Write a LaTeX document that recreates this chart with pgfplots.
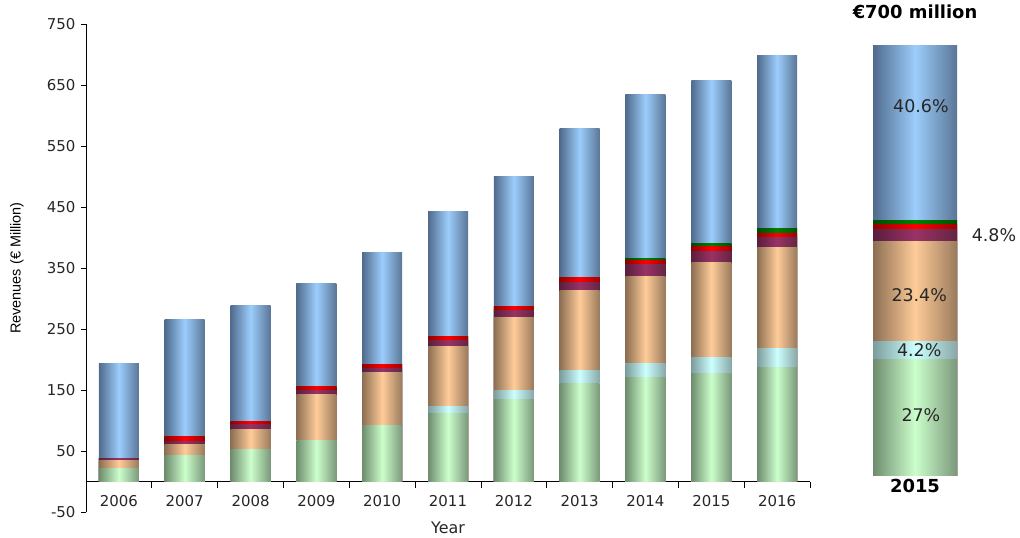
\documentclass[border=0pt]{standalone}
\usepackage{pgfplots}
\usepackage{pgfplotstable}
\pgfplotsset{compat=1.18}
\usepackage{fontspec}
\setmainfont{DejaVu Sans}
\newfontfamily\arialfont{Liberation Sans}
\definecolor{bluM}{HTML}{9CCDFC}\definecolor{bluL}{HTML}{506B8C}\definecolor{bluR}{HTML}{5A7696}
\definecolor{grnM}{HTML}{CCFFCC}\definecolor{grnL}{HTML}{6E8C6E}\definecolor{grnR}{HTML}{7A987A}
\definecolor{cyaM}{HTML}{CCFFFF}\definecolor{cyaL}{HTML}{7C9C9C}\definecolor{cyaR}{HTML}{88A8A8}
\definecolor{orgM}{HTML}{FFCC99}\definecolor{orgL}{HTML}{8C6E52}\definecolor{orgR}{HTML}{9A7A5C}
\definecolor{purM}{HTML}{993366}\definecolor{purL}{HTML}{5A1E3C}\definecolor{purR}{HTML}{642442}
\definecolor{redM}{HTML}{FF0000}\definecolor{redL}{HTML}{900000}\definecolor{redR}{HTML}{A00000}
\definecolor{dgrM}{HTML}{008000}\definecolor{dgrL}{HTML}{004A00}\definecolor{dgrR}{HTML}{005200}
\pgfplotsset{cyl/.style={draw=none, bar shift=0pt, fill=#1M, left color=#1L, right color=#1R, middle color=#1M}}
% segment values (EUR million): green, light cyan, orange, purple, red, dark green, blue
\pgfplotstableread{
x g    c    o     p    r   d   b
0 22   0    13    3    0.5 0   155.5
1 42   0    19    5    7   0   192
2 52   0    34    7    5   0   190
3 68   0    74    8    6.5 0   168.5
4 91   0    87    8    6.6 0   183.4
5 112  10.6 98.4  10   7.5 0   203.5
6 134.7 14.2 119.6 11.5 6.6 0  213.4
7 161  20.6 131.4 13   8   0   244
8 170  24   142   19   7   4   269
9 177  26   155.7 18   8.3 5.5 266.5
10 187 31   165   17   7   8   284
}\segs
% 2015 share (%)
\pgfplotstableread{
x g  c   o    p   r   d   b
0 27 4.2 23.4 2.8 1.2 0.8 40.6
}\share
\begin{document}
\begin{tikzpicture}
\useasboundingbox (0,0) rectangle (1020bp,538bp);
\begin{axis}[
  at={(86bp,26bp)}, anchor=south west, scale only axis,
  width=724bp, height=488bp,
  xmin=-0.5, xmax=10.5, ymin=-50, ymax=750,
  ybar, bar width=40bp,
  axis x line*=middle, axis y line*=left,
  hide obscured x ticks=false,
  xtick={0,1,2,3,4,5,6,7,8,9,10},
  xticklabels={2006,2007,2008,2009,2010,2011,2012,2013,2014,2015,2016},
  minor xtick={-0.5,0.5,1.5,2.5,3.5,4.5,5.5,6.5,7.5,8.5,9.5,10.5},
  ytick={-50,50,150,250,350,450,550,650,750},
  tick align=outside,
  major tick length=5bp, minor tick length=6bp,
  major x tick style={draw=none},
  tick style={black, line width=0.8pt},
  axis line style={black, line width=0.8pt},
  /pgf/number format/assume math mode=true,
  ticklabel style={font=\fontsize{15}{17}\selectfont, text=black!85},
  yticklabel style={xshift=-2bp},
  xticklabel style={yshift=-5bp},
  xlabel={Year},
  xlabel style={at={(axis description cs:0.5,0)}, anchor=center, yshift=-16bp, font=\fontsize{16}{18}\selectfont, text=black!85},
  ylabel={Revenues (€ Million)},
  ylabel style={at={(axis description cs:-0.0953,0.5)}, anchor=center, font=\arialfont\fontsize{14.5}{16}\selectfont},
  clip=false,
]
\pgfplotsinvokeforeach{0,1,2,3,4,5,6,7,8,9,10}{
\addplot[cyl=blu, restrict x to domain=#1:#1] table[x=x, y expr=\thisrow{g}+\thisrow{c}+\thisrow{o}+\thisrow{p}+\thisrow{r}+\thisrow{d}+\thisrow{b}] {\segs};
\addplot[cyl=dgr, restrict x to domain=#1:#1] table[x=x, y expr=\thisrow{g}+\thisrow{c}+\thisrow{o}+\thisrow{p}+\thisrow{r}+\thisrow{d}] {\segs};
\addplot[cyl=red, restrict x to domain=#1:#1] table[x=x, y expr=\thisrow{g}+\thisrow{c}+\thisrow{o}+\thisrow{p}+\thisrow{r}] {\segs};
\addplot[cyl=pur, restrict x to domain=#1:#1] table[x=x, y expr=\thisrow{g}+\thisrow{c}+\thisrow{o}+\thisrow{p}] {\segs};
\addplot[cyl=org, restrict x to domain=#1:#1] table[x=x, y expr=\thisrow{g}+\thisrow{c}+\thisrow{o}] {\segs};
\addplot[cyl=cya, restrict x to domain=#1:#1] table[x=x, y expr=\thisrow{g}+\thisrow{c}] {\segs};
\addplot[cyl=grn, restrict x to domain=#1:#1] table[x=x, y=g] {\segs};
}
\end{axis}
\begin{axis}[
  at={(873bp,62bp)}, anchor=south west, scale only axis,
  width=84bp, height=430bp,
  xmin=-0.5, xmax=0.5, ymin=0, ymax=100,
  ybar, bar width=84bp,
  axis line style={draw=none},
  ytick=\empty, xtick={0}, xticklabels={2015},
  major tick length=0pt, tick style={draw=none},
  xticklabel style={font=\bfseries\fontsize{18}{20}\selectfont},
  title={€700 million},
  title style={at={(0.5,1)}, anchor=center, yshift=28bp, font=\bfseries\fontsize{18}{20}\selectfont},
  clip=false,
]
\addplot[cyl=blu] table[x=x, y expr=\thisrow{g}+\thisrow{c}+\thisrow{o}+\thisrow{p}+\thisrow{r}+\thisrow{d}+\thisrow{b}] {\share};
\addplot[cyl=dgr] table[x=x, y expr=\thisrow{g}+\thisrow{c}+\thisrow{o}+\thisrow{p}+\thisrow{r}+\thisrow{d}] {\share};
\addplot[cyl=red] table[x=x, y expr=\thisrow{g}+\thisrow{c}+\thisrow{o}+\thisrow{p}+\thisrow{r}] {\share};
\addplot[cyl=pur] table[x=x, y expr=\thisrow{g}+\thisrow{c}+\thisrow{o}+\thisrow{p}] {\share};
\addplot[cyl=org] table[x=x, y expr=\thisrow{g}+\thisrow{c}+\thisrow{o}] {\share};
\addplot[cyl=cya] table[x=x, y expr=\thisrow{g}+\thisrow{c}] {\share};
\addplot[cyl=grn] table[x=x, y=g] {\share};
\node[font=\fontsize{17.5}{19}\selectfont, text=black!85] at (axis cs:0.07,86) {40.6\%};
\node[font=\fontsize{17.5}{19}\selectfont, text=black!85] at (axis cs:0.05,42) {23.4\%};
\node[font=\fontsize{17.5}{19}\selectfont, text=black!85] at (axis cs:0.05,29.3) {4.2\%};
\node[font=\fontsize{17.5}{19}\selectfont, text=black!85] at (axis cs:0.07,14.2) {27\%};
\node[font=\fontsize{17.5}{19}\selectfont, text=black!85] at (axis cs:0.94,56) {4.8\%};
\end{axis}
\end{tikzpicture}
\end{document}
